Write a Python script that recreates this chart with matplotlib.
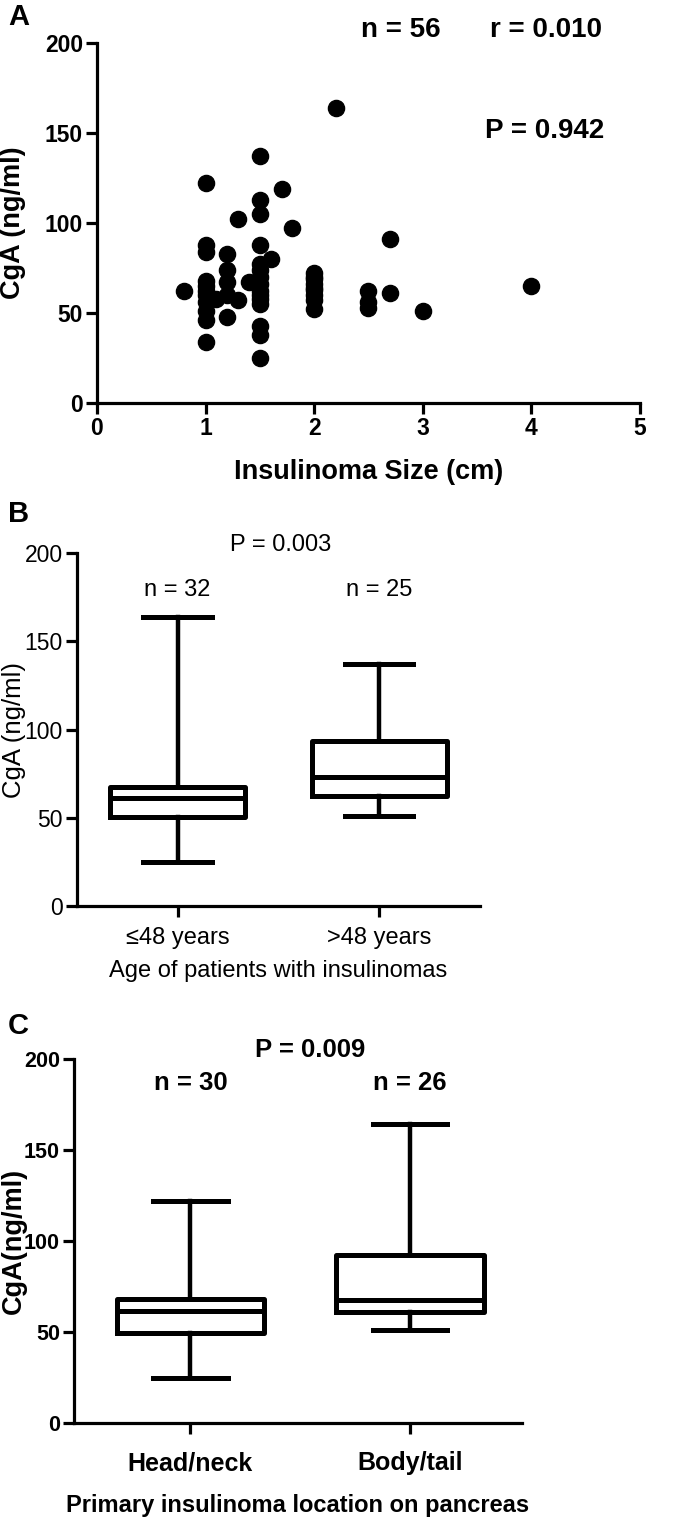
import numpy as np
import matplotlib.pyplot as plt

plt.rcParams['font.family'] = ['Liberation Sans', 'DejaVu Sans']

# Panel A: tumour size vs CgA
size_cm = [2.2, 1.5, 1.0, 1.7, 1.5, 1.5, 1.3, 1.8, 1.0, 1.0, 1.5, 1.2, 1.6,
           1.5, 1.5, 1.5, 1.5, 1.5, 1.5, 1.5, 1.5, 1.2, 1.2, 1.4,
           1.0, 1.0, 1.0, 1.0, 1.0, 0.8, 1.1, 1.2, 1.3, 1.0, 1.0, 1.2, 1.0,
           1.5, 1.5, 1.5, 2.0, 2.0, 2.0, 2.0, 2.0, 2.0, 2.0, 2.0, 2.0,
           2.7, 2.5, 2.5, 2.5, 2.7, 3.0, 4.0]
cga_a = [164, 137, 122, 119, 113, 105, 102, 97, 88, 84, 88, 83, 80,
         77, 74, 70, 66, 62, 58, 55, 60, 74, 67, 67,
         68, 65, 62, 60, 56, 62, 58, 60, 57, 51, 46, 48, 34,
         43, 38, 25, 72, 70, 69, 66, 64, 63, 60, 57, 52,
         91, 62, 56, 53, 61, 51, 65]

# Panel B: age groups
b_labels = ["\u226448 years", ">48 years"]
b_n = [32, 25]
b_whislo = [25, 51]
b_q1 = [50.6, 62.4]
b_med = [61.4, 73.3]
b_q3 = [67.3, 93.8]
b_whishi = [164, 137]

# Panel C: location
c_labels = ["Head/neck", "Body/tail"]
c_n = [30, 26]
c_whislo = [25, 51]
c_q1 = [49.7, 61.3]
c_med = [61.8, 67.7]
c_q3 = [68.1, 92.4]
c_whishi = [122, 164]

fig = plt.figure(figsize=(6.85, 15.4), dpi=100)

lw = 2.3


def style_axes(ax, weight, size):
    for s in ["top", "right"]:
        ax.spines[s].set_visible(False)
    for s in ["left", "bottom"]:
        ax.spines[s].set_linewidth(lw)
    ax.tick_params(width=lw, length=8, pad=2, labelsize=size, direction="out")
    for t in ax.get_xticklabels() + ax.get_yticklabels():
        t.set_fontweight(weight)


def draw_box(ax, labels, lo, q1, med, q3, hi):
    stats = []
    for i in range(len(labels)):
        stats.append(dict(label=labels[i], whislo=lo[i], q1=q1[i], med=med[i],
                          q3=q3[i], whishi=hi[i], fliers=[]))
    ax.bxp(stats, positions=[1, 2], widths=0.67, showfliers=False,
           boxprops=dict(color="black", linewidth=3.6),
           medianprops=dict(color="black", linewidth=3.6),
           whiskerprops=dict(color="black", linewidth=3.2),
           capprops=dict(color="black", linewidth=3.6), capwidths=0.34)


# ---- A ----
axA = fig.add_axes([0.1416, 0.7383, 0.7927, 0.2338])
axA.scatter(size_cm, cga_a, s=135, color="black", zorder=3, clip_on=False)
axA.set_xlim(0, 5)
axA.set_ylim(0, 200)
axA.set_xticks([0, 1, 2, 3, 4, 5])
axA.set_yticks([0, 50, 100, 150, 200])
style_axes(axA, "bold", 16.5)
axA.set_xlabel("Insulinoma Size (cm)", fontsize=19.5, fontweight="bold", labelpad=14)
axA.set_ylabel("CgA (ng/ml)", fontsize=19.5, fontweight="bold")
axA.yaxis.set_label_coords(-0.13, 0.5)
axA.text(2.8, 207, "n = 56", fontsize=20, fontweight="bold", ha="center", va="center")
axA.text(4.13, 207, "r = 0.010", fontsize=20, fontweight="bold", ha="center", va="center")
axA.text(4.12, 151, "P = 0.942", fontsize=20, fontweight="bold", ha="center", va="center")
fig.text(0.012, 0.989, "A", fontsize=21, fontweight="bold", va="center")

# ---- B ----
axB = fig.add_axes([0.112, 0.4117, 0.5887, 0.229])
draw_box(axB, b_labels, b_whislo, b_q1, b_med, b_q3, b_whishi)
axB.set_xlim(0.5, 2.5)
axB.set_ylim(0, 200)
axB.set_yticks([0, 50, 100, 150, 200])
style_axes(axB, "normal", 16.5)
axB.tick_params(axis="x", pad=7)
axB.set_xticklabels(b_labels, fontsize=17)
axB.set_xlabel("Age of patients with insulinomas", fontsize=17, labelpad=8)
axB.set_ylabel("CgA (ng/ml)", fontsize=18.5)
axB.yaxis.set_label_coords(-0.125, 0.5)
axB.text(1.51, 205, "P = 0.003", fontsize=17, ha="center", va="center")
for i in range(2):
    axB.text(i + 1, 179, "n = %d" % b_n[i], fontsize=17, ha="center", va="center")
fig.text(0.012, 0.666, "B", fontsize=21, fontweight="bold", va="center")

# ---- C ----
axC = fig.add_axes([0.108, 0.0758, 0.654, 0.2366])
draw_box(axC, c_labels, c_whislo, c_q1, c_med, c_q3, c_whishi)
axC.set_xlim(0.47, 2.51)
axC.set_ylim(0, 200)
axC.set_yticks([0, 50, 100, 150, 200])
style_axes(axC, "bold", 15.5)
axC.tick_params(axis="x", pad=12)
axC.set_xticklabels(c_labels, fontsize=18, fontweight="bold")
axC.set_xlabel("Primary insulinoma location on pancreas", fontsize=17,
               fontweight="bold", labelpad=14)
axC.set_ylabel("CgA(ng/ml)", fontsize=19.5, fontweight="bold")
axC.yaxis.set_label_coords(-0.105, 0.5)
axC.text(1.546, 205, "P = 0.009", fontsize=18.5, fontweight="bold", ha="center", va="center")
for i in range(2):
    axC.text(i + 1, 187, "n = %d" % c_n[i], fontsize=18.5, fontweight="bold",
             ha="center", va="center")
fig.text(0.012, 0.334, "C", fontsize=21, fontweight="bold", va="center")

fig.savefig("out.png", dpi=100)
